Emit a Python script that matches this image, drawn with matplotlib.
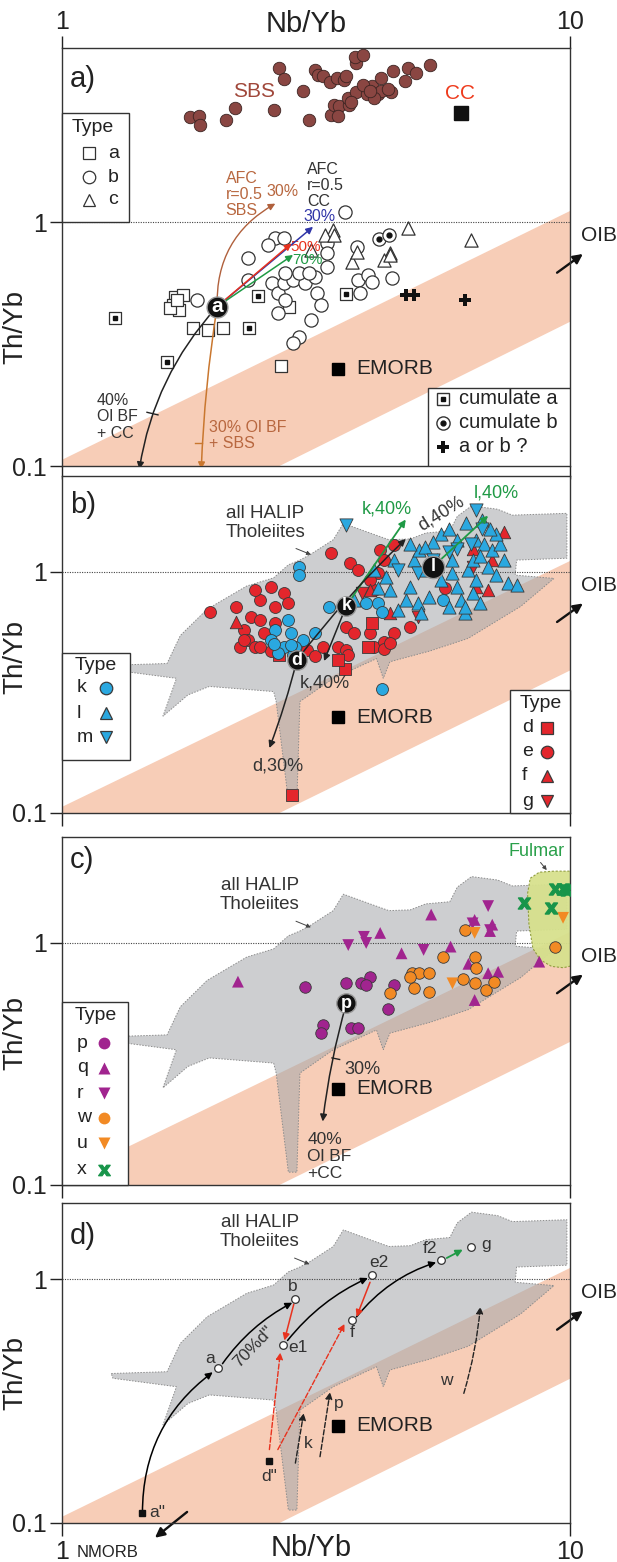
import numpy as np
import matplotlib.pyplot as plt
from matplotlib.patches import FancyArrowPatch, Polygon, Rectangle
from matplotlib.ticker import NullLocator

plt.rcParams['font.family'] = ['Liberation Sans', 'DejaVu Sans']

# ---------------- data: Nb/Yb (x) vs Th/Yb (y) ----------------
# panel a
sbs_x = [1.79, 1.86, 1.87, 2.10, 2.19, 2.61, 3.07, 3.39, 3.43, 3.51, 3.68, 3.66, 3.79, 3.98, 4.08,
         4.18, 4.25, 4.44, 4.25, 4.74, 4.79, 4.97, 4.48, 5.30, 3.92, 2.98, 2.68, 2.74, 3.15, 3.19,
         3.26, 3.37, 3.48, 3.59, 3.63, 3.79, 3.77, 3.91, 4.11, 4.04, 4.38, 3.50, 3.70]
sbs_y = [2.70, 2.71, 2.50, 2.62, 2.93, 2.87, 2.62, 2.74, 3.02, 3.00, 3.02, 3.22, 3.40, 3.34, 3.62,
         3.34, 3.88, 3.42, 3.46, 3.77, 4.27, 4.07, 4.16, 4.40, 3.64, 3.46, 4.27, 3.85, 4.20, 4.00,
         3.96, 3.74, 3.88, 3.82, 3.96, 4.47, 4.76, 4.83, 3.24, 3.46, 3.52, 2.72, 3.12]
cc_x, cc_y = [6.09], [2.79]
emorb_x, emorb_y = [3.50], [0.25]

type_a_x = [1.67, 1.73, 1.655, 1.70, 1.63, 1.685, 1.81, 1.94, 2.07, 2.70, 2.80]
type_a_y = [0.494, 0.502, 0.457, 0.436, 0.443, 0.479, 0.367, 0.361, 0.367, 0.257, 0.45]
type_b_x = [3.60, 2.63, 2.73, 2.54, 3.32, 3.80, 3.32, 2.32, 2.32, 2.59, 2.66, 2.73, 2.75, 2.66, 2.85,
            3.01, 2.93, 3.15, 3.18, 3.23, 3.32, 3.06, 3.09, 2.93, 2.85, 3.83, 4.01, 4.08, 3.86, 4.46,
            1.84, 2.75]
type_b_y = [1.10, 0.857, 0.857, 0.805, 0.818, 0.792, 0.745, 0.71, 0.578, 0.56, 0.51, 0.56, 0.479,
            0.422, 0.578, 0.56, 0.616, 0.597, 0.51, 0.457, 0.656, 0.62, 0.397, 0.339, 0.318, 0.578,
            0.607, 0.569, 0.51, 0.588, 0.479, 0.62]
type_c_x = [3.41, 3.29, 3.43, 3.09, 4.79, 6.37, 4.42, 3.73, 4.30, 4.42, 3.80]
type_c_y = [0.927, 0.885, 0.885, 0.768, 0.942, 0.844, 0.745, 0.688, 0.699, 0.733, 0.756]
cum_a_x = [1.27, 1.61, 2.43, 2.33, 3.63]
cum_a_y = [0.403, 0.268, 0.497, 0.367, 0.505]
cum_b_x = [4.20, 4.40]
cum_b_y = [0.849, 0.885]
unsure_x = [4.75, 4.92, 6.22]
unsure_y = [0.502, 0.502, 0.479]
node_a = (2.02, 0.45)

# panel b
e_x = [1.96, 2.28, 2.36, 2.45, 2.40, 2.58, 2.73, 2.63, 2.78, 2.45, 2.63, 2.32, 2.24, 2.40, 2.58,
       3.04, 3.15, 3.26, 3.38, 3.69, 3.83, 4.23, 4.30, 4.50, 4.19, 3.63, 3.76, 4.04, 4.11, 4.30,
       4.50, 4.84, 5.67, 2.20, 2.50, 3.50, 2.28, 2.45, 3.63, 4.30, 4.42, 3.66, 4.11, 4.04]
e_y = [0.685, 0.574, 0.653, 0.765, 0.842, 0.869, 0.816, 0.718, 0.741, 0.632, 0.612, 0.522, 0.49,
       0.49, 0.468, 0.475, 0.446, 0.49, 1.195, 1.086, 1.02, 1.23, 1.12, 1.29, 0.987, 0.593, 0.556,
       0.556, 0.49, 0.514, 0.556, 0.593, 0.855, 0.718, 0.556, 0.49, 0.522, 0.49, 0.475, 0.48,
       0.506, 0.453, 0.84, 0.93]
k_x = [2.93, 2.93, 2.63, 2.78, 2.82, 2.58, 2.98, 2.87, 2.73, 2.85, 2.66, 3.15, 3.35, 3.97, 4.19,
       4.26, 5.62, 2.61, 2.82, 4.26]
k_y = [1.05, 0.97, 0.574, 0.632, 0.556, 0.522, 0.522, 0.49, 0.49, 0.453, 0.46, 0.556, 0.718, 0.741,
       0.741, 0.685, 0.765, 0.50, 0.497, 0.326]
l_x = [3.76, 4.11, 4.34, 4.42, 4.58, 4.75, 4.84, 5.01, 5.10, 5.28, 4.92, 5.05, 5.19, 5.57, 5.87,
       5.98, 6.09, 6.20, 6.31, 6.43, 6.54, 6.78, 7.03, 7.28, 6.66, 6.90, 7.15, 7.55, 7.88, 6.43,
       6.66, 5.98, 6.25, 5.57, 5.77, 5.37, 5.19, 4.84, 7.15, 6.96, 6.72, 6.20, 6.54, 7.41, 5.77,
       5.47, 4.50, 4.19, 5.87]
l_y = [0.765, 1.02, 0.956, 0.842, 0.695, 0.765, 0.869, 0.741, 0.674, 0.79, 1.12, 1.23, 1.02, 0.927,
       0.987, 0.869, 0.765, 0.674, 1.02, 1.12, 1.36, 1.31, 1.23, 1.31, 1.16, 1.05, 0.97, 0.898,
       0.88, 0.816, 0.741, 1.36, 1.59, 1.43, 1.51, 1.33, 1.27, 1.31, 1.43, 1.51, 1.64, 0.718, 0.927,
       1.12, 0.718, 1.12, 1.12, 0.855, 1.12]
m_x = [3.63, 6.54, 6.72, 5.98, 5.37, 5.01, 4.58, 5.77, 6.37]
m_y = [1.57, 1.80, 1.51, 1.25, 1.12, 0.987, 1.02, 1.21, 1.31]
f_x = [7.41, 6.90, 6.54, 6.43, 7.03, 2.20, 4.42, 4.04]
f_y = [1.47, 0.842, 0.869, 1.25, 1.12, 0.62, 0.674, 0.842]
g_x = [6.43, 3.90, 5.01]
g_y = [1.05, 0.816, 0.653]
d_x = [2.68, 3.60, 4.00, 2.84, 3.50, 4.08]
d_y = [0.453, 0.396, 0.49, 0.119, 0.431, 0.612]
node_k, node_l, node_d = (3.63, 0.725), (5.37, 1.05), (2.90, 0.431)

# panel c
p_x = [3.01, 3.63, 3.87, 4.04, 3.97, 4.50, 4.38, 3.26, 3.23, 3.70, 3.83]
p_y = [0.66, 0.681, 0.681, 0.726, 0.67, 0.67, 0.535, 0.458, 0.423, 0.444, 0.444]
q_x = [2.22, 4.23, 5.33, 4.66, 5.82, 6.49, 7.03, 6.96, 6.31, 6.90, 7.22, 6.49, 8.70]
q_y = [0.692, 1.10, 1.31, 0.906, 0.966, 1.245, 1.19, 1.12, 0.82, 0.75, 0.76, 0.581, 0.837]
r_x = [3.93, 3.97, 3.66, 5.15, 6.90, 6.96, 6.43]
r_y = [1.06, 1.00, 0.98, 0.936, 1.42, 1.13, 1.205]
w_x = [6.20, 4.42, 4.88, 5.05, 5.28, 4.92, 5.28, 5.62, 6.49, 6.15, 6.49, 6.84, 7.09, 6.54, 9.35, 4.84]
w_y = [1.13, 0.62, 0.75, 0.75, 0.75, 0.65, 0.63, 0.878, 0.878, 0.71, 0.681, 0.64, 0.692, 0.79,
       0.966, 0.726]
u_x = [6.49, 5.87, 9.69]
u_y = [1.10, 0.681, 1.27]
x_x = [8.10, 9.35, 9.69, 9.86, 9.18]
x_y = [1.46, 1.67, 1.67, 1.65, 1.39]
node_p = (3.63, 0.564)

# panel d: model steps
step_names = ['a', 'b', 'e1', 'e2', 'f', 'f2', 'g']
step_x = [2.03, 2.88, 2.72, 4.08, 3.72, 5.57, 6.37]
step_y = [0.432, 0.828, 0.536, 1.04, 0.68, 1.20, 1.35]
src_names = ['a"', 'd"']
src_x = [1.44, 2.56]
src_y = [0.11, 0.18]

# MORB-OIB array and HALIP tholeiite field
band_x = [1.0, 10.0]
band_top = [0.106, 1.11]
band_low_x = [2.68, 10.0]
band_low = [0.10, 0.39]
halip_x = [1.25, 1.61, 1.71, 1.93, 2.31, 2.61, 2.79, 2.94, 3.08, 3.42, 3.58, 4.04, 4.40, 4.85,
           5.20, 5.80, 6.00, 6.40, 7.20, 7.70, 9.86, 9.86, 7.85, 7.80, 9.30, 8.00, 6.30, 5.30,
           4.42, 4.29, 4.16, 3.42, 2.94, 2.90, 2.79, 2.64, 2.61, 1.95, 1.77, 1.58, 1.68, 1.26]
halip_y = [0.41, 0.417, 0.545, 0.70, 0.874, 0.945, 1.07, 1.12, 1.18, 1.36, 1.59, 1.45, 1.36, 1.37,
           1.45, 1.48, 1.70, 1.88, 1.82, 1.72, 1.75, 1.14, 1.12, 0.97, 0.94, 0.72, 0.53, 0.47,
           0.424, 0.362, 0.437, 0.362, 0.29, 0.113, 0.113, 0.29, 0.319, 0.335, 0.309, 0.252,
           0.362, 0.392]
fulmar_x = [8.25, 8.35, 8.7, 9.3, 10.5, 10.5, 9.7, 9.2, 8.75, 8.45, 8.3]
fulmar_y = [1.60, 1.85, 1.96, 1.98, 1.98, 0.82, 0.79, 0.80, 0.85, 0.95, 1.20]

# ---------------- layout (pixels) ----------------
W, H = 617, 1562
X0, X1 = 62, 570
PANEL = {'a': (48, 466, 5.17), 'b': (476, 813, 2.50), 'c': (837, 1185, 2.74), 'd': (1203, 1523, 2.05)}

RED, BLUE, PURPLE, ORANGE, GREEN = '#e3262c', '#2aa8e0', '#a1248f', '#f28a24', '#18954a'
PINK, EDGE = '#f7cdb7', '#3a3a3a'

fig = plt.figure(figsize=(W / 100, H / 100), dpi=100)


def arrow(ax, p0, p1, color='k', rad=0.0, ls='-', lw=1.1, ms=10, z=4):
    a = FancyArrowPatch(p0, p1, connectionstyle=f'arc3,rad={rad}', arrowstyle='-|>',
                        mutation_scale=ms, color=color, lw=lw, linestyle=ls,
                        shrinkA=0, shrinkB=0, zorder=z)
    ax.add_patch(a)
    return a


def panel(key, ylab_frac):
    top, bot, ymax = PANEL[key]
    ax = fig.add_axes([X0 / W, 1 - bot / H, (X1 - X0) / W, (bot - top) / H])
    ax.set_xscale('log')
    ax.set_yscale('log')
    ax.set_xlim(1, 10)
    ax.set_ylim(0.1, ymax)
    ax.xaxis.set_minor_locator(NullLocator())
    ax.yaxis.set_minor_locator(NullLocator())
    ax.set_xticks([1, 10])
    ax.set_xticklabels(['1', '10'])
    ax.set_yticks([0.1, 1])
    ax.set_yticklabels(['0.1', '1'])
    ax.tick_params(axis='y', direction='out', length=9, width=1, labelsize=18, pad=2, colors='#222')
    ax.tick_params(axis='x', direction='out', length=9, width=1, labelsize=18, pad=3,
                   labelbottom=False, colors='#222')
    for s in ax.spines.values():
        s.set_linewidth(1.0)
        s.set_color('#333')
    ax.set_ylabel('Th/Yb', fontsize=20, color='#222')
    ax.yaxis.set_label_coords(-0.067, ylab_frac)
    ax.axhline(1, color='#444', lw=0.8, ls=(0, (1, 1.2)), zorder=2)

    # MORB-OIB array
    slope = np.log10(band_low[1] / band_low[0]) / np.log10(band_low_x[1] / band_low_x[0])
    low_at_1 = band_low[0] * (band_x[0] / band_low_x[0]) ** slope
    verts = [(band_x[0], band_top[0]), (band_x[1], band_top[1]),
             (band_x[1], band_low[1]), (band_x[0], low_at_1)]
    ax.add_patch(Polygon(verts, closed=True, fc=PINK, ec='none', zorder=0))

    ax.text(0.016, 1 - {'a': 31, 'b': 29, 'c': 23, 'd': 33}[key] / (bot - top), key + ')',
            transform=ax.transAxes, fontsize=21, va='center', ha='left', color='#222')
    ax.plot(emorb_x, emorb_y, 's', ms=9, color='k', zorder=5)
    ax.text(emorb_x[0] * 1.085, emorb_y[0], 'EMORB', fontsize=15, va='center', ha='left', color='#222')

    # OIB direction
    arr = FancyArrowPatch((9.43, 0.62), (10.6, 0.74), arrowstyle='-|>', mutation_scale=14,
                          color='#111', lw=1.7, shrinkA=0, shrinkB=0, clip_on=False)
    ax.add_patch(arr)
    ax.text(11.4, 0.88, 'OIB', fontsize=15, ha='center', va='center', color='#222', clip_on=False)
    return ax


def halip(ax, label_xy, tip):
    ax.add_patch(Polygon(list(zip(halip_x, halip_y)), closed=True, fc='#a4a7ab', alpha=0.55,
                         ec='none', zorder=1))
    ax.add_patch(Polygon(list(zip(halip_x, halip_y)), closed=True, fill=False, ec='#8c8c8c',
                         lw=0.7, ls=(0, (1.5, 1.5)), zorder=1))
    ax.text(label_xy[0], label_xy[1], 'all HALIP\nTholeiites', fontsize=13.5, ha='center',
            va='center', color='#333', linespacing=1.15, zorder=6)
    arrow(ax, (tip[0] / 1.07, tip[1] * 1.06), tip, color='#444', lw=0.7, ms=6)


def node(ax, xy, s, ms=14, fs=13):
    ax.plot(*xy, 'o', ms=ms, mfc='#111', mec='#999', mew=1, zorder=6)
    ax.text(*xy, s, color='w', fontsize=fs, ha='center', va='center', fontweight='bold', zorder=7)


def pts(ax, x, y, marker, color, ms=8.6, ec=EDGE, lw=0.6, z=3):
    ax.scatter(x, y, s=ms ** 2, marker=marker, c=color, edgecolors=ec, linewidths=lw, zorder=z)


def legend(ax, key, box, title_y, rows, lab_px, mk_px, fs=14, ms=9):
    top, bot, _ = PANEL[key]
    fx = lambda px: (px - X0) / (X1 - X0)
    fy = lambda py: (bot - py) / (bot - top)
    x0, y0, x1, y1 = box
    ax.add_patch(Rectangle((fx(x0), fy(y1)), fx(x1) - fx(x0), fy(y0) - fy(y1),
                           transform=ax.transAxes, fc='white', ec='#333', lw=1, zorder=8,
                           clip_on=False))
    ax.text(fx(lab_px[0]), fy(title_y), 'Type', transform=ax.transAxes, fontsize=fs,
            va='center', ha='left', zorder=9, color='#222')
    for (lab, py, marker, mfc, mec) in rows:
        ax.text(fx(lab_px[1]), fy(py), lab, transform=ax.transAxes, fontsize=fs, va='center',
                ha='left', zorder=9, color='#222')
        ax.plot([fx(mk_px)], [fy(py)], marker=marker, ls='none', ms=ms, mfc=mfc, mec=mec, mew=0.9,
                transform=ax.transAxes, zorder=9, clip_on=False)


# ---------------- panel a ----------------
ax = panel('a', 0.333)
pts(ax, sbs_x, sbs_y, 'o', '#8a4642', ms=9, ec='#3b2422')
ax.text(2.39, 3.44, 'SBS', color='#a0473a', fontsize=15, ha='center', va='center')
ax.plot(cc_x, cc_y, 's', ms=10, color='#111')
ax.text(6.07, 3.38, 'CC', color='#ee3a1c', fontsize=15, ha='center', va='center')

pts(ax, type_a_x, type_a_y, 's', 'white', ms=9, ec='#333', lw=0.9)
pts(ax, type_b_x, type_b_y, 'o', 'white', ms=9.5, ec='#333', lw=0.9)
pts(ax, type_c_x, type_c_y, '^', 'white', ms=9.5, ec='#333', lw=0.9)
pts(ax, cum_a_x, cum_a_y, 's', 'white', ms=9, ec='#333', lw=0.9)
ax.plot(cum_a_x, cum_a_y, 's', ms=2.5, color='#111', ls='none', zorder=4)
pts(ax, cum_b_x, cum_b_y, 'o', 'white', ms=9.5, ec='#333', lw=0.9)
ax.plot(cum_b_x, cum_b_y, 'o', ms=3.5, color='#111', ls='none', zorder=4)
ax.plot(unsure_x, unsure_y, 'P', ms=9, color='#111', ls='none', zorder=4, mew=0)

# AFC and fractional crystallisation paths from a
arrow(ax, node_a, (2.63, 1.19), color='#b0603c', rad=-0.3, lw=1.0)
arrow(ax, node_a, (3.12, 0.956), color='#3035a8', lw=1.1)
arrow(ax, node_a, (2.83, 0.818), color='#e8321e', lw=1.1)
arrow(ax, node_a, (2.85, 0.733), color='#1f9a45', lw=1.1)
arrow(ax, node_a, (1.42, 0.097), color='#222', rad=0.15, lw=1.1)
arrow(ax, node_a, (1.88, 0.097), color='#c9772f', rad=0.03, lw=1.1)
ax.plot([1.47, 1.545], [0.166, 0.162], color='#222', lw=1.0)
ax.plot([1.83, 1.885], [0.124, 0.124], color='#c9772f', lw=1.0)
node(ax, node_a, 'a', ms=15, fs=15)

ax.text(2.10, 1.62, 'AFC\nr=0.5\nSBS', color='#b8673f', fontsize=11.5, ha='left', va='top',
        linespacing=1.1)
ax.text(2.72, 1.33, '30%', color='#b8673f', fontsize=11.5, ha='center', va='center')
ax.text(3.04, 1.77, 'AFC\nr=0.5\nCC', color='#333', fontsize=11.5, ha='left', va='top',
        linespacing=1.1)
ax.text(3.22, 1.05, '30%', color='#3035a8', fontsize=11.5, ha='center', va='center')
ax.text(3.01, 0.79, '50%', color='#e8321e', fontsize=11, ha='center', va='center')
ax.text(3.04, 0.70, '70%', color='#1f9a45', fontsize=11, ha='center', va='center')
ax.text(1.17, 0.20, '40%\nOl BF\n+ CC', color='#333', fontsize=11.5, ha='left', va='top',
        linespacing=1.15)
ax.text(1.95, 0.155, '30% Ol BF\n+ SBS', color='#b8673f', fontsize=11.5, ha='left', va='top',
        linespacing=1.15)

legend(ax, 'a', (62, 113, 129, 222), 128,
       [('a', 153, 's', 'white', '#333'), ('b', 177, 'o', 'white', '#333'),
        ('c', 200, '^', 'white', '#333')], (72, 108), 89, ms=9)

# cumulate key, lower right
top, bot, _ = PANEL['a']
fx = lambda px: (px - X0) / (X1 - X0)
fy = lambda py: (bot - py) / (bot - top)
ax.add_patch(Rectangle((fx(428), 0), fx(570) - fx(428), fy(388), transform=ax.transAxes,
                       fc='white', ec='#333', lw=1, zorder=8))
for py, lab in [(399, 'cumulate a'), (423, 'cumulate b'), (447, 'a or b ?')]:
    ax.text(fx(459), fy(py), lab, transform=ax.transAxes, fontsize=14.5, va='center', ha='left',
            zorder=9, color='#222')
ax.plot(fx(443), fy(399), 's', ms=9, mfc='white', mec='#333', transform=ax.transAxes, zorder=9)
ax.plot(fx(443), fy(399), 's', ms=2.5, color='#111', transform=ax.transAxes, zorder=9)
ax.plot(fx(443), fy(423), 'o', ms=9.5, mfc='white', mec='#333', transform=ax.transAxes, zorder=9)
ax.plot(fx(443), fy(423), 'o', ms=3.5, color='#111', transform=ax.transAxes, zorder=9)
ax.plot(fx(443), fy(447), 'P', ms=9, color='#111', mew=0, transform=ax.transAxes, zorder=9)

ax.tick_params(axis='x', top=True, labeltop=True, bottom=True, labelbottom=False, pad=1)
fig.text(306 / W, 1 - 24 / H, 'Nb/Yb', fontsize=21, ha='center', va='center', color='#222')

# ---------------- panel b ----------------
ax = panel('b', 0.463)
halip(ax, (2.51, 1.6), (3.09, 1.18))
pts(ax, e_x, e_y, 'o', RED)
pts(ax, d_x, d_y, 's', RED, ms=8)
pts(ax, f_x, f_y, '^', RED, ms=9)
pts(ax, g_x, g_y, 'v', RED, ms=9)
pts(ax, k_x, k_y, 'o', BLUE)
pts(ax, l_x, l_y, '^', BLUE, ms=9.5)
pts(ax, m_x, m_y, 'v', BLUE, ms=9.5)

arrow(ax, node_k, (4.75, 1.65), color='#1f9a45', lw=1.3)
arrow(ax, node_l, (6.9, 1.71), color='#1f9a45', lw=1.3)
arrow(ax, node_d, (4.75, 1.37), color='#222', rad=-0.04)
arrow(ax, node_k, (3.28, 0.427), color='#222')
arrow(ax, node_d, (2.56, 0.186), color='#222', rad=-0.03)
node(ax, node_k, 'k')
node(ax, node_l, 'l', ms=16)
node(ax, node_d, 'd')
ax.text(4.35, 1.83, 'k,40%', color='#1f9a45', fontsize=13, ha='center', va='center')
ax.text(7.15, 2.13, 'l,40%', color='#1f9a45', fontsize=13, ha='center', va='center')
ax.text(5.57, 1.75, 'd,40%', color='#333', fontsize=13, ha='center', va='center', rotation=32)
ax.text(3.29, 0.346, 'k,40%', color='#333', fontsize=13, ha='center', va='center')
ax.text(2.66, 0.156, 'd,30%', color='#333', fontsize=13, ha='center', va='center')

legend(ax, 'b', (62, 653, 130, 760), 665,
       [('k', 688, 'o', BLUE, EDGE), ('l', 713, '^', BLUE, EDGE), ('m', 737, 'v', BLUE, EDGE)],
       (75, 77), 106)
legend(ax, 'b', (510, 690, 570, 813), 703,
       [('d', 728, 's', RED, EDGE), ('e', 752, 'o', RED, EDGE), ('f', 776, '^', RED, EDGE),
        ('g', 801, 'v', RED, EDGE)], (520, 522), 547)

# ---------------- panel c ----------------
ax = panel('c', 0.437)
halip(ax, (2.45, 1.58), (3.09, 1.16))
ax.add_patch(Polygon(list(zip(fulmar_x, fulmar_y)), closed=True, fc='#d7e18d', ec='#8d9a3c',
                     lw=0.8, ls=(0, (2, 1.5)), alpha=0.95, zorder=2))
ax.text(8.6, 2.38, 'Fulmar', color='#2aa04a', fontsize=13, ha='center', va='center')
arrow(ax, (8.75, 2.15), (9.0, 2.0), color='#444', lw=0.7, ms=6)
pts(ax, p_x, p_y, 'o', PURPLE, ms=8.3)
pts(ax, q_x, q_y, '^', PURPLE, ms=8.5, ec='none')
pts(ax, r_x, r_y, 'v', PURPLE, ms=8.5, ec='none')
pts(ax, w_x, w_y, 'o', ORANGE, ms=8.3)
pts(ax, u_x, u_y, 'v', ORANGE, ms=8.5, ec='none')
ax.scatter(x_x, x_y, s=80, marker='$\\mathbf{x}$', c=GREEN, zorder=4)
arrow(ax, node_p, (3.26, 0.183), color='#222', rad=0.04)
ax.plot([3.40, 3.52], [0.335, 0.33], color='#222', lw=1.0)
node(ax, node_p, 'p')
ax.text(3.90, 0.30, '30%', color='#333', fontsize=13, ha='center', va='center')
ax.text(3.04, 0.165, '40%\nOl BF\n+CC', color='#333', fontsize=12.5, ha='left', va='top',
        linespacing=1.15)

legend(ax, 'c', (62, 1002, 128, 1185), 1015,
       [('p', 1043, 'o', PURPLE, 'none'), ('q', 1068, '^', PURPLE, 'none'),
        ('r', 1093, 'v', PURPLE, 'none'), ('w', 1118, 'o', ORANGE, 'none'),
        ('u', 1143, 'v', ORANGE, 'none'), ('x', 1170, '$\\mathbf{x}$', GREEN, GREEN)],
       (75, 77), 104, ms=8.5)

# ---------------- panel d ----------------
ax = panel('d', 0.469)
halip(ax, (2.45, 1.56), (3.07, 1.15))

arrow(ax, (src_x[0], src_y[0]), (1.98, 0.415), rad=-0.25)
arrow(ax, (2.07, 0.45), (2.84, 0.80), rad=-0.12)
arrow(ax, (2.78, 0.56), (4.00, 1.01), rad=-0.12)
arrow(ax, (3.80, 0.70), (5.45, 1.17), rad=-0.15)
arrow(ax, (2.86, 0.79), (2.74, 0.56), color='#e8321e')
arrow(ax, (4.04, 0.97), (3.80, 0.70), color='#e8321e')
arrow(ax, (5.72, 1.22), (6.15, 1.32), color='#1f9a45', lw=1.3)
arrow(ax, (2.56, 0.20), (2.69, 0.50), color='#e8321e', ls='--', lw=1.0)
arrow(ax, (2.66, 0.20), (3.60, 0.655), color='#e8321e', ls='--', lw=1.0)
arrow(ax, (2.88, 0.176), (2.99, 0.282), color='#222', ls='--', lw=1.0)
arrow(ax, (3.22, 0.187), (3.37, 0.344), color='#222', ls='--', lw=1.0)
arrow(ax, (6.18, 0.34), (6.66, 0.77), color='#222', ls='--', lw=1.0, rad=0.05)
ax.text(3.05, 0.212, 'k', fontsize=12.5, ha='center', va='center', color='#333')
ax.text(3.50, 0.31, 'p', fontsize=12.5, ha='center', va='center', color='#333')
ax.text(5.72, 0.385, 'w', fontsize=12.5, ha='center', va='center', color='#333')

ax.plot(step_x, step_y, 'o', ms=5.5, mfc='white', mec='#333', mew=0.9, ls='none', zorder=6)
ax.plot(src_x, src_y, 's', ms=5, color='#111', ls='none', zorder=6)
offs = {'a': (-6, 7), 'b': (-2, 9), 'e1': (11, -2), 'e2': (5, 9), 'f': (0, -9),
        'f2': (-8, 8), 'g': (11, 2), 'a"': (11, 0), 'd"': (0, -11)}
for n, x, y in zip(step_names + src_names, step_x + src_x, step_y + src_y):
    ax.annotate(n, (x, y), xytext=offs[n], textcoords='offset points', fontsize=12.5,
                ha='center', va='center', color='#333', zorder=7)
ax.text(2.38, 0.526, '70%d"', fontsize=12.5, rotation=46, ha='center', va='center', color='#333')

nm = FancyArrowPatch((1.763, 0.111), (1.524, 0.087), arrowstyle='-|>', mutation_scale=14,
                     color='#111', lw=1.7, shrinkA=0, shrinkB=0, clip_on=False)
ax.add_patch(nm)
ax.tick_params(axis='x', labelbottom=True)
fig.text(77 / W, 1 - 1557 / H, 'NMORB', fontsize=12, ha='left', va='baseline', color='#222')
fig.text(311 / W, 1 - 1548 / H, 'Nb/Yb', fontsize=21, ha='center', va='center', color='#222')

fig.savefig('out.png', dpi=100)
